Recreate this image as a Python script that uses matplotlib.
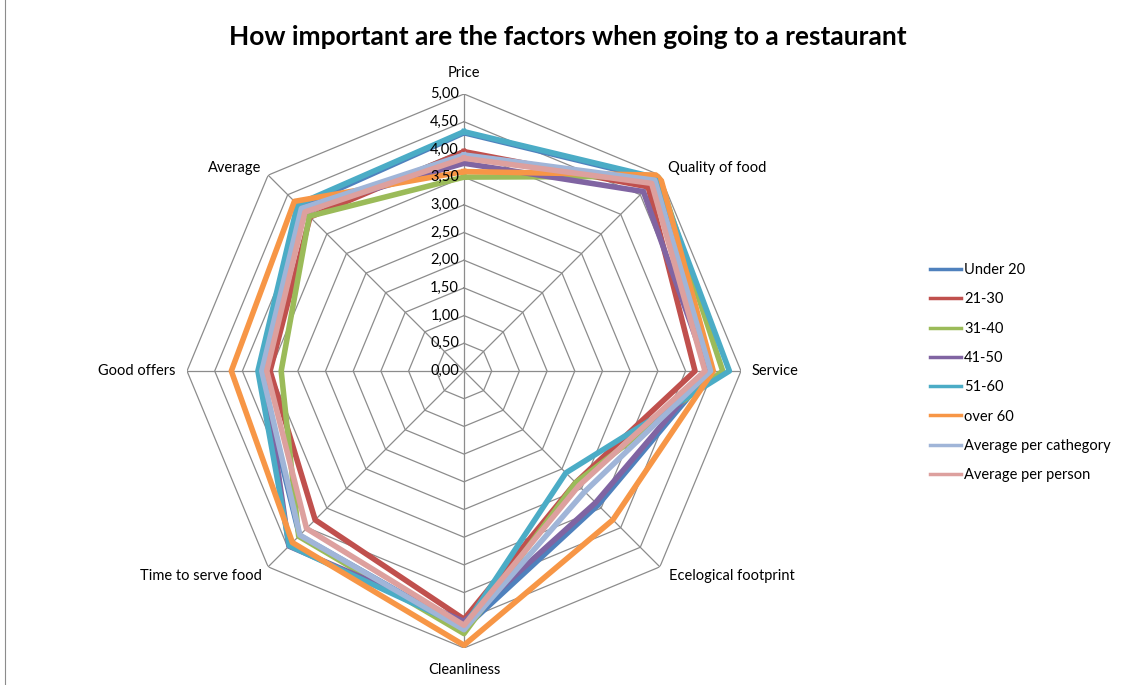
import numpy as np
import matplotlib
matplotlib.use("Agg")
import matplotlib.pyplot as plt
from matplotlib.lines import Line2D
from matplotlib.transforms import offset_copy

plt.rcParams['font.family'] = ['Lato', 'DejaVu Sans']

# Data
categories = ["Price", "Quality of food", "Service", "Ecelogical footprint",
              "Cleanliness", "Time to serve food", "Good offers", "Average"]
series_names = ["Under 20", "21-30", "31-40", "41-50", "51-60", "over 60",
                "Average per cathegory", "Average per person"]
under_20 = [4.30, 4.90, 4.45, 3.42, 4.65, 4.20, 3.70, 4.20]
age_21_30 = [3.96, 4.70, 4.17, 2.85, 4.48, 3.80, 3.50, 3.93]
age_31_40 = [3.50, 4.97, 4.67, 2.85, 4.74, 4.22, 3.30, 3.95]
age_41_50 = [3.75, 4.58, 4.40, 3.36, 4.52, 4.47, 3.62, 4.12]
age_51_60 = [4.32, 4.93, 4.79, 2.60, 4.62, 4.46, 3.72, 4.25]
over_60 = [3.60, 5.00, 4.50, 3.80, 4.95, 4.38, 4.20, 4.33]
avg_category = [3.90, 4.87, 4.45, 3.08, 4.67, 4.19, 3.65, 4.15]
avg_person = [3.84, 4.79, 4.35, 2.93, 4.59, 4.02, 3.56, 4.06]
all_series = [under_20, age_21_30, age_31_40, age_41_50, age_51_60,
              over_60, avg_category, avg_person]
colors = ["#4F81BD", "#C0504D", "#9BBB59", "#8064A2", "#4BACC6",
          "#F79646", "#A0B5D8", "#DDA09E"]
rings = np.arange(0, 5.01, 0.5)
ring_labels = ["{:.2f}".format(r).replace(".", ",") for r in rings]

W, H = 1126, 685
fig = plt.figure(figsize=(W / 100, H / 100), dpi=100)
fig.patch.set_facecolor("white")

# center at (464, 371) px, radius 277 px
cx, cy, R = 464, 371, 277
ax = fig.add_axes([(cx - R) / W, (H - cy - R) / H, 2 * R / W, 2 * R / H],
                  projection="polar")
ax.set_theta_zero_location("N")
ax.set_theta_direction(-1)
ax.set_ylim(0, 5)
ax.grid(False)
ax.spines["polar"].set_visible(False)
ax.set_xticks([])
ax.set_yticks([])
ax.patch.set_alpha(0)

n = len(categories)
theta = np.arange(n) * 2 * np.pi / n
theta_c = np.append(theta, theta[0])

grid_col = "#8C8C8C"
for r in rings[1:]:
    ax.plot(theta_c, [r] * (n + 1), color=grid_col, lw=0.9, zorder=1)
for t in theta:
    ax.plot([t, t], [0, 5], color=grid_col, lw=0.9, zorder=1)

for vals, name, col in zip(all_series, series_names, colors):
    ax.plot(theta_c, vals + vals[:1], color=col, lw=4.0, label=name,
            solid_joinstyle="round", zorder=3)

# radial tick labels
lab_tr = offset_copy(ax.transData, fig=fig, x=-5, y=0, units="dots")
for r, s in zip(rings, ring_labels):
    ax.text(0, r, s, transform=lab_tr, ha="right", va="center",
            fontsize=10.5, color="#000000", zorder=5)

# category labels
offsets = [(0, 21, "center", "center"), (8, 7, "left", "center"),
           (11, 0, "left", "center"), (9, -9, "left", "center"),
           (0, -22, "center", "center"), (-6, -9, "right", "center"),
           (-11, 0, "right", "center"), (-7, 7, "right", "center")]
for t, c, (dx, dy, ha, va) in zip(theta, categories, offsets):
    tr = offset_copy(ax.transData, fig=fig, x=dx, y=dy, units="dots")
    ax.text(t, 5, c, transform=tr, ha=ha, va=va, fontsize=10.5)

fig.text(568 / W, 1 - 37 / H, "How important are the factors when going to a restaurant",
         ha="center", va="center", fontsize=19, fontweight="bold")

handles = [Line2D([0], [0], color=c, lw=2.5) for c in colors]
fig.legend(handles, series_names, loc="upper left",
           bbox_to_anchor=(930 / W, 1 - 263 / H), frameon=False,
           borderpad=0, borderaxespad=0, handlelength=2.1,
           handletextpad=0.25, labelspacing=1.05, fontsize=10.5)

fig.add_artist(Line2D([5 / W, 5 / W], [0, 1], color="#8C8C8C", lw=0.8))

fig.savefig("out.png", dpi=100)
